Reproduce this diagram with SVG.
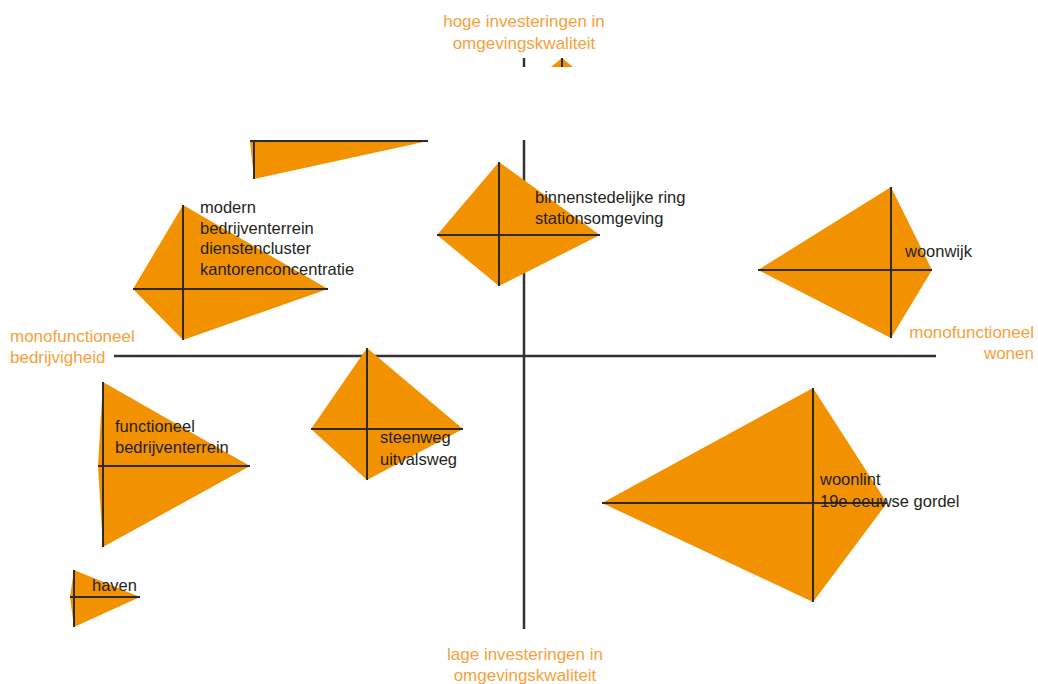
<svg xmlns="http://www.w3.org/2000/svg" width="1038" height="684" viewBox="0 0 1038 684">
<style>
.kite{fill:#F39200;stroke:none}
.cross{stroke:#2e2a28;stroke-width:2;fill:none}
.axis{stroke:#333333;stroke-width:2.5;fill:none}
.lbl{font-family:"Liberation Sans",Arial,sans-serif;font-size:16.5px;fill:#231f20}
.ax{font-family:"Liberation Sans",Arial,sans-serif;font-size:17px;fill:#F4A23C}
</style>
<rect width="1038" height="684" fill="#ffffff"/>
<g id="axes">
<line class="axis" x1="524" y1="58" x2="524" y2="67"/>
<line class="axis" x1="524" y1="140" x2="524" y2="629"/>
<line class="axis" x1="114" y1="356" x2="936" y2="356"/>
</g>
<g id="axis-labels">
<text class="ax" x="524" y="27" text-anchor="middle">hoge investeringen in</text>
<text class="ax" x="524" y="49" text-anchor="middle">omgevingskwaliteit</text>
<text class="ax" x="525" y="660" text-anchor="middle">lage investeringen in</text>
<text class="ax" x="525" y="681" text-anchor="middle">omgevingskwaliteit</text>
<text class="ax" x="10" y="342">monofunctioneel</text>
<text class="ax" x="10" y="363">bedrijvigheid</text>
<text class="ax" x="1034" y="338" text-anchor="end">monofunctioneel</text>
<text class="ax" x="1034" y="359" text-anchor="end">wonen</text>
</g>
<g id="node-top-small">
<polygon class="kite" points="562,58 573,67 551,67"/>
<line class="cross" x1="562" y1="58" x2="562" y2="67"/>
</g>
<g id="node-top-partial">
<polygon class="kite" points="250,141 428,141 254,179"/>
<line class="cross" x1="250" y1="141" x2="428" y2="141"/>
<line class="cross" x1="254" y1="141" x2="254" y2="179"/>
</g>
<g id="node-modern">
<polygon class="kite" points="183,205 328,289 183,340 133,289"/>
<line class="cross" x1="183" y1="205" x2="183" y2="340"/>
<line class="cross" x1="133" y1="289" x2="328" y2="289"/>
<text class="lbl" x="200" y="213">modern</text>
<text class="lbl" x="200" y="234">bedrijventerrein</text>
<text class="lbl" x="200" y="254">dienstencluster</text>
<text class="lbl" x="200" y="275">kantorenconcentratie</text>
</g>
<g id="node-binnenstedelijk">
<polygon class="kite" points="499,162 600,235 499,286 437,235"/>
<line class="cross" x1="499" y1="162" x2="499" y2="286"/>
<line class="cross" x1="437" y1="235" x2="600" y2="235"/>
<text class="lbl" x="535" y="203">binnenstedelijke ring</text>
<text class="lbl" x="535" y="224">stationsomgeving</text>
</g>
<g id="node-woonwijk">
<polygon class="kite" points="891,187 932,270 891,338 758,270"/>
<line class="cross" x1="891" y1="187" x2="891" y2="338"/>
<line class="cross" x1="758" y1="270" x2="932" y2="270"/>
<text class="lbl" x="905" y="257">woonwijk</text>
</g>
<g id="node-functioneel">
<polygon class="kite" points="103,382 250,466 103,547 98,466"/>
<line class="cross" x1="103" y1="382" x2="103" y2="547"/>
<line class="cross" x1="98" y1="466" x2="250" y2="466"/>
<text class="lbl" x="115" y="432">functioneel</text>
<text class="lbl" x="115" y="453">bedrijventerrein</text>
</g>
<g id="node-steenweg">
<polygon class="kite" points="367,348 463,429 367,480 311,429"/>
<line class="cross" x1="367" y1="348" x2="367" y2="480"/>
<line class="cross" x1="311" y1="429" x2="463" y2="429"/>
<text class="lbl" x="380" y="443">steenweg</text>
<text class="lbl" x="380" y="465">uitvalsweg</text>
</g>
<g id="node-woonlint">
<polygon class="kite" points="813,388 887,503 813,602 602,503"/>
<line class="cross" x1="813" y1="388" x2="813" y2="602"/>
<line class="cross" x1="602" y1="503" x2="887" y2="503"/>
<text class="lbl" x="820" y="485">woonlint</text>
<text class="lbl" x="820" y="507">19e eeuwse gordel</text>
</g>
<g id="node-haven">
<polygon class="kite" points="74,570 140,597 74,627 70,597"/>
<line class="cross" x1="74" y1="570" x2="74" y2="627"/>
<line class="cross" x1="70" y1="597" x2="140" y2="597"/>
<text class="lbl" x="92" y="591">haven</text>
</g>
</svg>
